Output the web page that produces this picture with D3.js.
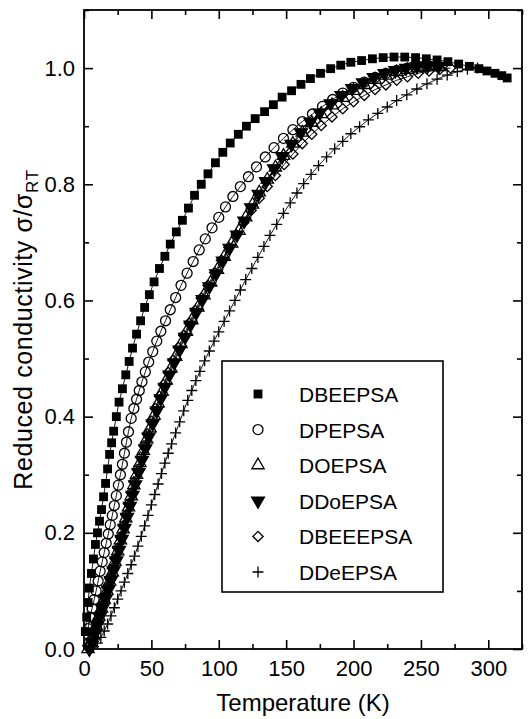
<!DOCTYPE html>
<html>
<head>
<meta charset="utf-8">
<script src="https://cdn.jsdelivr.net/npm/d3@7"></script>
<style>
  html, body { margin: 0; padding: 0; background: #fff; }
  svg { display: block; }
  text { font-family: "Liberation Sans", Arial, Helvetica, sans-serif; fill: #000; }
</style>
</head>
<body>
<svg id="chart" width="532" height="719"></svg>
<script>
// Reduced conductivity sigma/sigma_RT versus temperature for six PANI-type salts.
// Each series: [temperature (K), reduced conductivity]
const dbeepsa = [[1,0.03],[2,0.055],[3,0.08],[4,0.105],[5.5,0.13],[7,0.155],[8.5,0.18],[10,0.2],[11.5,0.22],[13,0.24],[14.5,0.262],[16,0.285],[17.5,0.31],[19,0.335],[20.5,0.355],[22,0.375],[24,0.4],[26,0.425],[28.5,0.448],[31,0.472],[33.5,0.495],[36,0.518],[39,0.542],[42,0.565],[45,0.588],[48.5,0.61],[52,0.632],[56,0.655],[60,0.676],[64,0.697],[68.5,0.718],[73,0.738],[77.5,0.759],[82,0.781],[87,0.8],[92,0.818],[97.5,0.837],[103,0.855],[108.5,0.871],[114.5,0.886],[120.5,0.9],[127,0.913],[134,0.925],[140.5,0.937],[147,0.95],[154,0.961],[161,0.972],[168,0.982],[175.5,0.991],[183,0.999],[190.5,1.005],[198,1.01],[206,1.013],[214,1.016],[222,1.018],[230,1.019],[238,1.019],[246,1.018],[254,1.016],[262,1.014],[270,1.011],[278,1.007],[286,1.003],[293,0.999],[299,0.995],[305,0.991],[310,0.987],[314,0.983]];

const dpepsa = [[3,0.035],[4.5,0.055],[6,0.07],[7.5,0.085],[9,0.1],[10.5,0.117],[12,0.134],[13.5,0.15],[15,0.166],[16.5,0.182],[18,0.198],[19.5,0.214],[21,0.23],[22.5,0.247],[24,0.264],[25.5,0.282],[27,0.3],[28.5,0.318],[30,0.337],[31.5,0.356],[33,0.374],[35,0.397],[37,0.414],[39,0.43],[41,0.445],[43,0.46],[45.5,0.477],[48,0.494],[51,0.512],[54,0.53],[57,0.547],[60.5,0.565],[64,0.584],[68,0.605],[72,0.626],[76.5,0.647],[81,0.667],[85.5,0.687],[90,0.706],[95,0.725],[100,0.743],[105,0.761],[110.5,0.779],[116,0.796],[122,0.813],[128,0.83],[134.5,0.847],[141,0.863],[148,0.879],[155,0.894],[162,0.908],[169.5,0.921],[177,0.934],[184.5,0.946],[192,0.957],[200,0.967],[208,0.976],[216,0.984],[224,0.991],[232,0.996],[240,1.0],[248,1.003],[256,1.004]];

const doepsa = [[3,0.0],[5,0.01],[7,0.024],[9,0.04],[11,0.056],[13,0.07],[15,0.085],[17,0.1],[19,0.116],[21,0.132],[23,0.15],[25,0.168],[27,0.187],[29,0.206],[31,0.225],[33,0.244],[35,0.263],[37,0.282],[39,0.3],[41.5,0.32],[44,0.341],[46.5,0.361],[49,0.38],[52,0.402],[55,0.423],[58,0.443],[61,0.462],[64.5,0.483],[68,0.503],[72,0.525],[76,0.546],[80,0.566],[84.5,0.588],[89,0.609],[94,0.631],[99,0.653],[104,0.675],[109.5,0.698],[115,0.72],[120,0.743],[125,0.765],[130,0.786],[136,0.808],[142,0.829],[148,0.849],[155,0.87],[162,0.889],[169,0.906],[176,0.921],[184,0.936],[192,0.949],[200,0.961],[208,0.971],[216,0.98],[224,0.987],[232,0.993],[240,0.997],[248,1.0],[256,1.002],[264,1.002]];

const ddoepsa = [[4,0.0],[6,0.012],[8,0.026],[10,0.041],[12,0.056],[14,0.071],[16,0.086],[18,0.102],[20,0.118],[22,0.135],[24,0.152],[26,0.17],[28,0.189],[30,0.208],[32,0.227],[34,0.246],[36,0.265],[38,0.283],[40.5,0.304],[43,0.325],[45.5,0.345],[48,0.365],[51,0.388],[54,0.41],[57,0.431],[60,0.451],[63.5,0.472],[67,0.493],[71,0.515],[75,0.537],[79,0.558],[83.5,0.58],[88,0.602],[93,0.624],[98,0.646],[103,0.668],[108,0.69],[113.5,0.713],[119,0.737],[124,0.76],[129.5,0.783],[135,0.805],[141,0.827],[147,0.848],[154,0.869],[161,0.889],[168,0.907],[175,0.923],[183,0.939],[191,0.953],[199,0.965],[207,0.975],[215,0.984],[223,0.991],[231,0.996],[239,1.0],[247,1.003],[255,1.004],[263,1.003]];

const dbeeepsa = [[3,0.005],[5,0.016],[7,0.03],[9,0.045],[11,0.06],[13,0.075],[15,0.09],[17,0.106],[19,0.122],[21,0.139],[23,0.156],[25,0.174],[27,0.193],[29,0.212],[31,0.231],[33,0.25],[35,0.269],[37,0.288],[39.5,0.309],[42,0.33],[44.5,0.35],[47,0.37],[50,0.392],[53,0.414],[56,0.435],[59,0.455],[62.5,0.476],[66,0.497],[70,0.519],[74,0.54],[78,0.561],[82.5,0.583],[87,0.604],[92,0.626],[97,0.648],[102,0.669],[107.5,0.691],[113,0.713],[118.5,0.734],[124,0.755],[130,0.776],[136,0.796],[142,0.815],[148.5,0.834],[155,0.852],[162,0.87],[169,0.886],[176,0.901],[184,0.916],[192,0.93],[200,0.942],[208,0.953],[216,0.963],[224,0.971],[232,0.979],[240,0.985],[248,0.991],[256,0.995],[264,0.998],[272,1.0]];

const ddeepsa = [[4,0.0],[7,0.004],[10,0.01],[12.5,0.02],[15,0.031],[17.5,0.043],[20,0.057],[22.5,0.071],[25,0.086],[27.5,0.1],[30,0.115],[32.5,0.13],[35,0.145],[37.5,0.16],[40,0.177],[42.5,0.194],[45,0.212],[47.5,0.23],[50,0.248],[52.5,0.266],[55,0.284],[57.5,0.302],[60,0.32],[62.5,0.337],[65,0.353],[68,0.372],[71,0.391],[74,0.41],[77,0.428],[80,0.445],[83,0.462],[86,0.478],[89.5,0.496],[93,0.513],[96.5,0.53],[100,0.546],[104,0.564],[108,0.582],[112,0.6],[116,0.618],[120,0.636],[124.5,0.655],[129,0.674],[133.5,0.693],[138,0.712],[143,0.731],[148,0.75],[153,0.768],[158,0.785],[163,0.801],[168.5,0.817],[174,0.832],[180,0.847],[186,0.861],[192,0.874],[198,0.887],[204.5,0.899],[211,0.911],[218,0.922],[225,0.933],[232,0.944],[239.5,0.954],[247,0.964],[254.5,0.973],[262,0.981],[269.5,0.988],[277,0.994],[284.5,0.998],[292,1.0]];

const seriesNames = ["DBEEPSA", "DPEPSA", "DOEPSA", "DDoEPSA", "DBEEEPSA", "DDeEPSA"];
const temperatureTicks = [0, 50, 100, 150, 200, 250, 300];
const temperatureMinorTicks = [25, 75, 125, 175, 225, 275, 325];
const conductivityTicks = [0.0, 0.2, 0.4, 0.6, 0.8, 1.0];
const conductivityMinorTicks = [0.1, 0.3, 0.5, 0.7, 0.9, 1.1];

const svg = d3.select("#chart");
const plot = { left: 84, right: 522, top: 10, bottom: 649 };

const x = d3.scaleLinear().domain([0, 325]).range([plot.left, plot.right]);
const y = d3.scaleLinear().domain([0, 1.1]).range([plot.bottom, plot.top]);

// marker glyphs, drawn around (0,0)
const glyph = {
  square: { d: d3.symbol(d3.symbolSquare, 78)(), fill: "#000", stroke: "none", rot: 0 },
  circle: { d: d3.symbol(d3.symbolCircle, 78)(), fill: "none", stroke: "#000", rot: 0 },
  triUp: { d: d3.symbol(d3.symbolTriangle, 66)(), fill: "none", stroke: "#000", rot: 0 },
  triDown: { d: d3.symbol(d3.symbolTriangle, 72)(), fill: "#000", stroke: "#000", rot: 180 },
  diamond: { d: d3.symbol(d3.symbolSquare, 52)(), fill: "none", stroke: "#000", rot: 45 },
  plus: { d: "M-5.5,0H5.5M0,-5.5V5.5", fill: "none", stroke: "#000", rot: 0 }
};

const series = [
  { name: seriesNames[5], data: ddeepsa, g: glyph.plus },
  { name: seriesNames[4], data: dbeeepsa, g: glyph.diamond },
  { name: seriesNames[2], data: doepsa, g: glyph.triUp },
  { name: seriesNames[3], data: ddoepsa, g: glyph.triDown },
  { name: seriesNames[1], data: dpepsa, g: glyph.circle },
  { name: seriesNames[0], data: dbeepsa, g: glyph.square }
];

const line = d3.line().x(d => x(d[0])).y(d => y(d[1]));

const marks = svg.append("g");
series.forEach(s => {
  const g = marks.append("g");
  g.append("path")
    .attr("d", line(s.data))
    .attr("fill", "none")
    .attr("stroke", "#000")
    .attr("stroke-width", 0.9);
  g.selectAll("path.pt")
    .data(s.data)
    .join("path")
    .attr("class", "pt")
    .attr("d", s.g.d)
    .attr("transform", d => `translate(${x(d[0])},${y(d[1])}) rotate(${s.g.rot})`)
    .attr("fill", s.g.fill)
    .attr("stroke", s.g.stroke)
    .attr("stroke-width", 1.3);
});

// axes with inward ticks on all four sides
const axisFont = 22;
function styleAxis(g) {
  g.select(".domain").remove();
  g.selectAll(".tick line").attr("stroke", "#000").attr("stroke-width", 1.6);
  g.selectAll("text").style("font-size", axisFont + "px").attr("fill", "#000");
}

svg.append("g").attr("transform", `translate(0,${plot.bottom})`)
  .call(d3.axisBottom(x).tickValues(temperatureTicks).tickFormat(d3.format("d")).tickSize(-9).tickPadding(11))
  .call(styleAxis);
svg.append("g").attr("transform", `translate(0,${plot.bottom})`)
  .call(d3.axisBottom(x).tickValues(temperatureMinorTicks).tickFormat("").tickSize(-5))
  .call(styleAxis);
svg.append("g").attr("transform", `translate(0,${plot.top})`)
  .call(d3.axisTop(x).tickValues(temperatureTicks).tickFormat("").tickSize(-9))
  .call(styleAxis);
svg.append("g").attr("transform", `translate(0,${plot.top})`)
  .call(d3.axisTop(x).tickValues(temperatureMinorTicks).tickFormat("").tickSize(-5))
  .call(styleAxis);

svg.append("g").attr("transform", `translate(${plot.left},0)`)
  .call(d3.axisLeft(y).tickValues(conductivityTicks).tickFormat(d3.format(".1f")).tickSize(-9).tickPadding(9))
  .call(styleAxis);
svg.append("g").attr("transform", `translate(${plot.left},0)`)
  .call(d3.axisLeft(y).tickValues(conductivityMinorTicks).tickFormat("").tickSize(-5))
  .call(styleAxis);
svg.append("g").attr("transform", `translate(${plot.right},0)`)
  .call(d3.axisRight(y).tickValues(conductivityTicks).tickFormat("").tickSize(-9))
  .call(styleAxis);
svg.append("g").attr("transform", `translate(${plot.right},0)`)
  .call(d3.axisRight(y).tickValues(conductivityMinorTicks).tickFormat("").tickSize(-5))
  .call(styleAxis);

// frame
svg.append("rect")
  .attr("x", plot.left).attr("y", plot.top)
  .attr("width", plot.right - plot.left).attr("height", plot.bottom - plot.top)
  .attr("fill", "none").attr("stroke", "#000").attr("stroke-width", 1.8);

// axis titles
svg.append("text")
  .attr("x", (plot.left + plot.right) / 2).attr("y", 711)
  .attr("text-anchor", "middle")
  .style("font-size", "24px")
  .text("Temperature (K)");

const yTitle = svg.append("text")
  .attr("transform", `translate(32,${(plot.top + plot.bottom) / 2}) rotate(-90)`)
  .attr("text-anchor", "middle")
  .style("font-size", "25px")
  .style("letter-spacing", "0.6px");
yTitle.append("tspan").text("Reduced conductivity σ/σ");
yTitle.append("tspan").attr("dy", 6).style("font-size", "17px").text("RT");

// legend
const legend = svg.append("g");
legend.append("rect")
  .attr("x", 222).attr("y", 361).attr("width", 221).attr("height", 231)
  .attr("fill", "#fff").attr("stroke", "#000").attr("stroke-width", 1.6);

const legendGlyphs = [glyph.square, glyph.circle, glyph.triUp, glyph.triDown, glyph.diamond, glyph.plus];
const legendRow = d3.scaleLinear().domain([0, 5]).range([394, 572]);
seriesNames.forEach((name, i) => {
  const g = legendGlyphs[i];
  legend.append("path")
    .attr("d", g.d)
    .attr("transform", `translate(258,${legendRow(i)}) rotate(${g.rot})`)
    .attr("fill", g.fill).attr("stroke", g.stroke).attr("stroke-width", 1.3);
  legend.append("text")
    .attr("x", 299).attr("y", legendRow(i) + 8)
    .style("font-size", "21px")
    .text(name);
});
</script>
</body>
</html>
